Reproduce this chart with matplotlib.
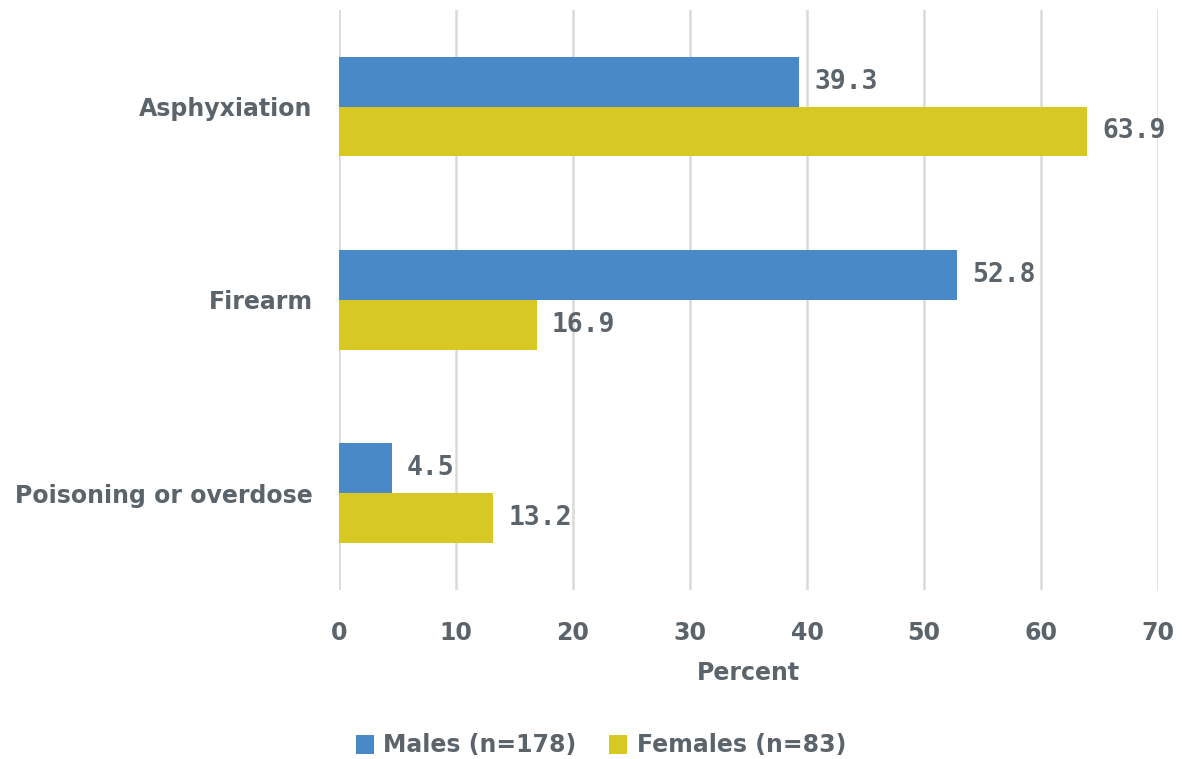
import numpy as np
import matplotlib.pyplot as plt

# Method of death by sex, percent
categories = ["Asphyxiation", "Firearm", "Poisoning or overdose"]
males = [39.3, 52.8, 4.5]
females = [63.9, 16.9, 13.2]
series_names = ["Males (n=178)", "Females (n=83)"]
x_ticks = [0, 10, 20, 30, 40, 50, 60, 70]

blue = "#4a89c8"
gold = "#d7c824"
text_gray = "#5b636b"

fig = plt.figure(figsize=(11.83, 7.59), dpi=100)
ax = fig.add_axes([0.2866, 0.2227, 0.6923, 0.7643])

y = np.arange(len(categories))
h = 0.258

bars_m = ax.barh(y - h / 2, males, height=h, color=blue, label=series_names[0])
bars_f = ax.barh(y + h / 2, females, height=h, color=gold, label=series_names[1])

# value labels to the right of each bar
for bars, vals in [(bars_m, males), (bars_f, females)]:
    for b, v in zip(bars, vals):
        ax.text(v + 1.3, b.get_y() + b.get_height() / 2, f"{v:.1f}",
                va="center", ha="left", fontsize=19, fontweight="bold",
                family="DejaVu Sans Mono", color=text_gray)

ax.set_xlim(0, 70)
ax.set_ylim(2.5, -0.5)
ax.set_xticks(x_ticks)
ax.set_yticks(y)
ax.set_yticklabels(categories)
ax.tick_params(axis="both", length=0, labelsize=17, labelcolor=text_gray)
ax.tick_params(axis="x", pad=22)
ax.tick_params(axis="y", pad=19)
for lab in ax.get_xticklabels() + ax.get_yticklabels():
    lab.set_fontweight("bold")

ax.set_xlabel("Percent", fontsize=17, fontweight="bold", color=text_gray, labelpad=12)

ax.grid(axis="x", color="#d9d9d9", linewidth=1.8)
ax.set_axisbelow(True)
for s in ax.spines.values():
    s.set_visible(False)

leg = fig.legend(loc="lower center", bbox_to_anchor=(0.508, -0.026), ncol=2,
                 frameon=False, fontsize=17, handlelength=0.75, handleheight=0.9,
                 handletextpad=0.4, columnspacing=1.4)
for t in leg.get_texts():
    t.set_color(text_gray)
    t.set_fontweight("bold")

fig.savefig("out.png", dpi=100)
